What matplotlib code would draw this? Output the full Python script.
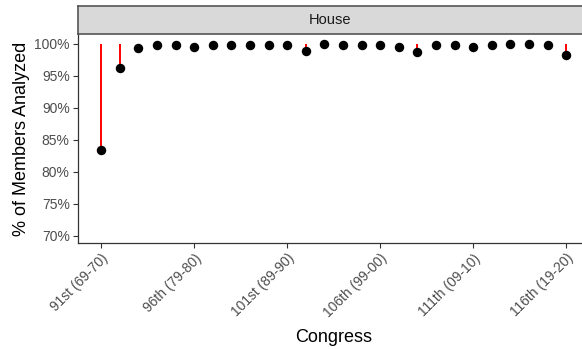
import matplotlib
matplotlib.use("Agg")
import matplotlib.pyplot as plt

plt.rcParams['font.family'] = ['Liberation Sans', 'DejaVu Sans']

congress = list(range(91, 117))
pct = [83.4, 96.3, 99.4, 99.8, 99.8, 99.6, 99.8, 99.8, 99.8, 99.8, 99.8, 98.95,
       100.0, 99.8, 99.8, 99.8, 99.6, 98.75, 99.8, 99.8, 99.6, 99.8, 100.0, 100.0,
       99.8, 98.3]
tick_pos = [91, 96, 101, 106, 111, 116]
tick_labels = ["91st (69-70)", "96th (79-80)", "101st (89-90)", "106th (99-00)",
               "111th (09-10)", "116th (19-20)"]
y_ticks = [70, 75, 80, 85, 90, 95, 100]
y_labels = ["70%", "75%", "80%", "85%", "90%", "95%", "100%"]

W, H = 582, 349
fig = plt.figure(figsize=(W / 100, H / 100), dpi=100)

left, right, top, bottom = 78, 589.5, 34, 243
ax = fig.add_axes([left / W, (H - bottom) / H, (right - left) / W, (bottom - top) / H])
sax = fig.add_axes([left / W, (H - top) / H, (right - left) / W, (top - 6) / H])

ax.vlines(congress, pct, [100] * len(pct), color='#FF0000', linewidth=1.4, zorder=2)
ax.plot(congress, pct, 'o', color='black', markersize=5.8, zorder=3)

ax.set_xlim(89.75, 117.25)
ax.set_ylim(68.9, 101.56)
ax.set_xticks(tick_pos)
ax.set_xticklabels(tick_labels, rotation=45, ha='right', va='top',
                   rotation_mode='anchor', fontsize=10, color='#4d4d4d')
ax.set_yticks(y_ticks)
ax.set_yticklabels(y_labels, fontsize=10, color='#4d4d4d')
ax.tick_params(axis='both', length=3.5, width=0.8, color='#333333', pad=2.5)
for s in ['top', 'right']:
    ax.spines[s].set_visible(False)
for s in ['left', 'bottom']:
    ax.spines[s].set_color('#333333')
    ax.spines[s].set_linewidth(0.9)
ax.set_xlabel("Congress", fontsize=13, color='black', labelpad=6)
ax.set_ylabel("% of Members Analyzed", fontsize=13, color='black', labelpad=3)

sax.set_facecolor('#d9d9d9')
sax.set_xticks([])
sax.set_yticks([])
for s in sax.spines.values():
    s.set_color('#555555')
    s.set_linewidth(1.2)
sax.text((330 - left) / (right - left), 0.5,
         "House", ha='center', va='center', fontsize=10.5, color='#1a1a1a',
         transform=sax.transAxes)

fig.savefig("out.png", dpi=100)
